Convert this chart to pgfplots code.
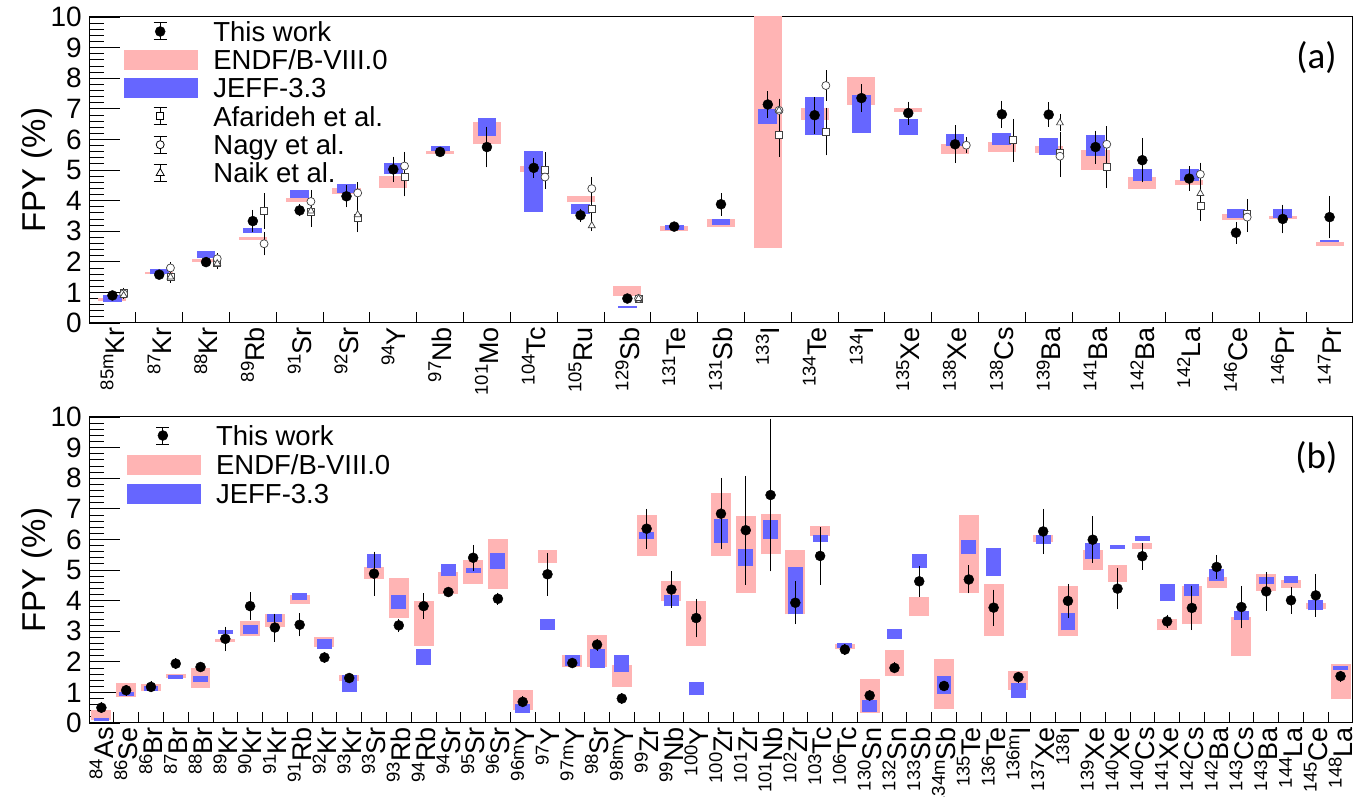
\documentclass[border=0pt]{standalone}
\usepackage{fontspec}
\setmainfont{Liberation Sans}
\newfontfamily\calibri{Carlito}
\usepackage{pgfplots}
\usepackage{pgfplotstable}
\pgfplotsset{compat=1.18}
\definecolor{endf}{RGB}{255,180,180}
\definecolor{jeff}{RGB}{102,102,255}
\newcommand\iso[2]{\raisebox{0.4em}{\fontsize{18.5}{18.5}\selectfont #1}#2}

% panel (a): i, this work, error, ENDF low/high, JEFF low/high
\pgfplotstableread{
i dot err elo ehi jlo jhi
0 0.90 0.05 0.72 0.82 0.70 0.92
1 1.58 0.05 1.59 1.67 1.60 1.76
2 1.99 0.06 1.98 2.10 2.12 2.34
3 3.33 0.27 2.72 2.82 2.94 3.09
4 3.68 0.10 3.95 4.10 4.10 4.34
5 4.14 0.26 4.20 4.42 4.25 4.55
6 5.02 0.32 4.42 4.79 4.86 5.23
7 5.59 0.05 5.51 5.61 5.62 5.80
8 5.75 0.57 5.84 6.56 6.10 6.71
9 5.07 0.22 4.93 5.12 3.64 5.63
10 3.52 0.12 3.94 4.16 3.57 3.88
11 0.80 0.03 0.89 1.20 0.50 0.54
12 3.15 0.05 3.00 3.16 3.03 3.19
13 3.88 0.27 3.13 3.39 3.21 3.39
14 7.14 0.33 2.44 10.50 6.51 6.98
15 6.79 0.50 6.64 7.02 6.15 7.39
16 7.35 0.36 7.14 8.05 6.22 7.44
17 6.86 0.28 6.90 7.03 6.15 6.66
18 5.84 0.52 5.53 5.86 5.78 6.19
19 6.82 0.35 5.59 5.92 5.83 6.21
20 6.81 0.30 5.57 5.78 5.50 6.06
21 5.75 0.44 5.01 5.64 5.46 6.13
22 5.32 0.63 4.39 4.77 4.64 5.04
23 4.72 0.30 4.50 4.68 4.64 5.04
24 2.95 0.26 3.36 3.55 3.44 3.74
25 3.40 0.37 3.39 3.49 3.43 3.74
26 3.46 0.60 2.52 2.65 2.64 2.71
}\tabA

\pgfplotstableread{
x y e
0.24 1.00 0.07
1.24 1.50 0.10
2.24 1.96 0.10
3.24 3.66 0.50
4.24 3.62 0.40
5.24 3.45 0.40
6.24 4.77 0.55
9.24 4.99 0.50
10.24 3.73 0.30
11.24 0.80 0.05
14.24 6.14 0.62
15.24 6.26 0.70
19.24 5.97 0.62
20.24 5.56 0.60
21.24 5.10 0.60
23.24 3.82 0.40
24.24 3.57 0.40
}\afa

\pgfplotstableread{
x y e
0.24 0.95 0.05
1.24 1.80 0.10
2.24 2.10 0.10
3.24 2.59 0.30
4.24 3.97 0.30
5.24 4.25 0.27
6.24 5.13 0.38
9.24 4.77 0.30
10.24 4.39 0.30
11.24 0.80 0.05
14.24 6.95 0.30
15.24 7.76 0.42
18.24 5.81 0.18
20.24 5.45 0.60
21.24 5.84 0.50
23.24 4.86 0.30
24.24 3.46 0.40
}\nagy

\pgfplotstableread{
x y e
0.24 0.90 0.05
1.24 1.50 0.10
2.24 1.94 0.10
4.24 3.66 0.30
5.24 3.54 0.30
10.24 3.18 0.10
11.24 0.80 0.05
14.24 6.95 0.30
20.24 6.54 0.20
23.24 4.23 0.20
}\naik

% panel (b)
\pgfplotstableread{
i dot err elo ehi jlo jhi
0 0.50 0.08 0.11 0.44 0.05 0.17
1 1.07 0.08 0.85 1.32 0.88 1.00
2 1.18 0.08 1.03 1.29 1.06 1.21
3 1.94 0.08 1.47 1.61 1.43 1.56
4 1.83 0.08 1.15 1.81 1.34 1.54
5 2.75 0.30 2.65 2.73 2.90 3.05
6 3.82 0.36 2.83 3.33 2.92 3.19
7 3.12 0.36 3.14 3.55 3.30 3.57
8 3.21 0.28 3.90 4.17 4.01 4.26
9 2.14 0.08 2.48 2.81 2.43 2.76
10 1.47 0.08 1.37 1.58 1.00 1.58
11 4.88 0.62 4.72 5.10 5.08 5.51
12 3.19 0.12 3.44 4.74 3.71 4.17
13 3.82 0.32 2.51 3.98 1.88 2.43
14 4.28 0.08 4.23 4.93 4.80 5.21
15 5.40 0.32 4.55 5.32 4.91 5.08
16 4.06 0.10 4.39 6.02 5.04 5.56
17 0.69 0.08 0.41 1.09 0.34 0.61
18 4.86 0.60 5.23 5.66 3.05 3.41
19 1.96 0.08 1.83 2.23 1.85 2.21
20 2.56 0.10 1.83 2.86 1.80 2.43
21 0.80 0.08 1.18 1.88 1.67 2.21
22 6.35 0.55 5.46 6.81 6.02 6.24
23 4.36 0.50 3.98 4.63 3.81 4.17
24 3.43 0.53 2.51 3.98 0.90 1.34
25 6.84 1.07 5.46 7.53 5.89 6.66
26 6.30 1.68 4.25 6.76 5.13 5.68
27 7.45 2.40 5.51 6.84 6.02 6.64
28 3.93 0.60 3.55 5.64 3.55 5.10
29 5.46 0.84 6.11 6.44 5.92 6.13
30 2.40 0.08 2.43 2.57 2.46 2.62
31 0.90 0.08 0.33 1.43 0.36 0.76
32 1.80 0.08 1.53 2.37 2.76 3.08
33 4.63 0.40 3.50 4.12 5.08 5.53
34 1.21 0.08 0.47 2.10 0.96 1.54
35 4.69 0.36 4.26 6.79 5.53 5.99
36 3.77 0.49 2.84 4.55 4.80 5.72
37 1.50 0.08 1.09 1.70 0.83 1.32
38 6.26 0.64 5.92 6.15 5.86 6.13
39 3.99 0.46 2.83 4.47 3.03 3.61
40 5.99 0.67 5.01 5.64 5.37 5.89
41 4.39 0.58 4.61 5.17 5.68 5.83
42 5.45 0.34 5.68 5.88 5.94 6.10
43 3.32 0.12 3.03 3.39 3.98 4.53
44 3.76 0.63 3.22 4.48 4.15 4.55
45 5.10 0.30 4.41 4.77 4.64 5.04
46 3.79 0.59 2.18 3.46 3.38 3.65
47 4.30 0.54 4.31 4.86 4.55 4.77
48 4.01 0.34 4.42 4.66 4.59 4.79
49 4.17 0.60 3.71 3.92 3.68 4.03
50 1.53 0.08 0.77 1.94 1.74 1.86
}\tabB

\pgfplotsset{
  fpyaxis/.style={
    scale only axis, width=1264pt, height=306pt,
    ymin=0, ymax=10,
    ytick={0,1,...,10}, yticklabels={0,1,2,3,4,5,6,7,8,9,10},
    minor y tick num=4,
    major tick length=31pt, minor tick length=15pt,
    tick align=inside, xtick pos=bottom, ytick pos=left,
    tick style={black, line width=0.8pt},
    axis line style={black, line width=1pt},
    xtick style={draw=none},
    extra x tick style={xtick style={draw=black}, major tick length=11pt},
    yticklabel style={font=\fontsize{28}{28}\selectfont, inner sep=0pt, xshift=-7pt},
    xticklabel style={font=\fontsize{27}{27}\selectfont, inner sep=0pt, yshift=-4pt, rotate=90, anchor=east},
    ylabel={FPY (\%)},
    ylabel style={font=\fontsize{33}{33}\selectfont, at={(axis description cs:-0.041,0.5)}, anchor=center},
    legend cell align=left,
    legend style={draw=none, fill=none, inner sep=0pt, outer sep=0pt,
      font=\fontsize{27.5}{27.5}\selectfont, anchor=north west,
      nodes={inner sep=0pt, outer sep=0pt, text height=19.7pt, text depth=0pt},
      column sep=0pt},
  },
  band/.style={forget plot, only marks, mark=*, mark size=0pt,
    mark options={draw=none, fill=none, opacity=0}},
  twimg/.style={legend image code/.code={
    \draw[black, line width=1pt] (36pt,-8.5pt)--(36pt,8.5pt) (29.5pt,8.5pt)--(42.5pt,8.5pt) (29.5pt,-8.5pt)--(42.5pt,-8.5pt);
    \fill[black] (36pt,0pt) circle (5pt);
    \path (0pt,0pt) (89pt,0pt);}},
  bandimg/.style={legend image code/.code={
    \fill[#1] (0pt,-9.5pt) rectangle (73pt,9.5pt);
    \path (89pt,0pt);}},
  expimg/.style={legend image code/.code={
    \draw[black, line width=0.8pt] (36pt,-8.5pt)--(36pt,8.5pt) (29.5pt,8.5pt)--(42.5pt,8.5pt) (29.5pt,-8.5pt)--(42.5pt,-8.5pt);
    #1
    \path (0pt,0pt) (89pt,0pt);}},
}

\begin{document}
\begin{tikzpicture}
\path[use as bounding box] (0pt,0pt) rectangle (1370pt,797pt);

% ---------------- panel (a)
\begin{axis}[fpyaxis, at={(89pt,474pt)}, anchor=south west,
  xmin=-0.5, xmax=26.5,
  xtick={0,1,...,26},
  xticklabels={\iso{85m}{Kr},\iso{87}{Kr},\iso{88}{Kr},\iso{89}{Rb},\iso{91}{Sr},\iso{92}{Sr},\iso{94}{Y},\iso{97}{Nb},\iso{101}{Mo},\iso{104}{Tc},\iso{105}{Ru},\iso{129}{Sb},\iso{131}{Te},\iso{131}{Sb},\iso{133}{I},\iso{134}{Te},\iso{134}{I},\iso{135}{Xe},\iso{138}{Xe},\iso{138}{Cs},\iso{139}{Ba},\iso{141}{Ba},\iso{142}{Ba},\iso{142}{La},\iso{146}{Ce},\iso{146}{Pr},\iso{147}{Pr}},
  extra x ticks={0.5,1.5,...,25.5}, extra x tick labels={},
  legend style={at={(axis description cs:0.02769,0.9848)}, row sep=8.6pt},
]
\addlegendimage{twimg}\addlegendentry{This work}
\addlegendimage{bandimg=endf}\addlegendentry{ENDF/B-VIII.0}
\addlegendimage{bandimg=jeff}\addlegendentry{JEFF-3.3}
\addlegendimage{expimg={\draw[black, fill=white, line width=0.8pt] (32.5pt,-3.5pt) rectangle (39.5pt,3.5pt);}}\addlegendentry{Afarideh et al.}
\addlegendimage{expimg={\draw[black, fill=white, line width=0.8pt] (36pt,0pt) circle (4pt);}}\addlegendentry{Nagy et al.}
\addlegendimage{expimg={\draw[black, fill=white, line width=0.8pt] (36pt,4.5pt)--(40pt,-2.5pt)--(32pt,-2.5pt)--cycle;}}\addlegendentry{Naik et al.}

\addplot[band, error bars/.cd, y dir=plus, y explicit, error mark=none,
  error bar style={line width=28.1pt, color=endf}]
  table[x=i, y=elo, y error expr=\thisrow{ehi}-\thisrow{elo}] {\tabA};
\addplot[band, error bars/.cd, y dir=plus, y explicit, error mark=none,
  error bar style={line width=18.8pt, color=jeff}]
  table[x=i, y=jlo, y error expr=\thisrow{jhi}-\thisrow{jlo}] {\tabA};

\addplot[forget plot, only marks, mark=square*, mark size=3.5pt, mark options={fill=white, draw=black!75, line width=0.7pt},
  error bars/.cd, y dir=both, y explicit, error bar style={line width=0.7pt, black}, error mark options={mark size=2.5pt, line width=0.7pt, black}]
  table[x=x, y=y, y error=e] {\afa};
\addplot[forget plot, only marks, mark=*, mark size=4pt, mark options={fill=white, draw=black!75, line width=0.7pt},
  error bars/.cd, y dir=both, y explicit, error bar style={line width=0.7pt, black}, error mark options={mark size=2.5pt, line width=0.7pt, black}]
  table[x=x, y=y, y error=e] {\nagy};
\addplot[forget plot, only marks, mark=triangle*, mark size=4pt, mark options={fill=white, draw=black!75, line width=0.7pt},
  error bars/.cd, y dir=both, y explicit, error bar style={line width=0.7pt, black}, error mark options={mark size=2.5pt, line width=0.7pt, black}]
  table[x=x, y=y, y error=e] {\naik};

\addplot[forget plot, only marks, mark=*, mark size=5pt, mark options={fill=black, draw=black},
  error bars/.cd, y dir=both, y explicit, error bar style={line width=0.9pt, black}, error mark options={mark size=3pt, line width=0.9pt, black}]
  table[x=i, y=dot, y error=err] {\tabA};

\node[font=\calibri\fontsize{37}{37}\selectfont, anchor=center] at (axis description cs:0.9711,0.8676) {(a)};
\end{axis}

% ---------------- panel (b)
\begin{axis}[fpyaxis, at={(89pt,74pt)}, anchor=south west,
  xmin=-0.5, xmax=50.5,
  xtick={0,1,...,50},
  xticklabels={\iso{84}{As},\iso{86}{Se},\iso{86}{Br},\iso{87}{Br},\iso{88}{Br},\iso{89}{Kr},\iso{90}{Kr},\iso{91}{Kr},\iso{91}{Rb},\iso{92}{Kr},\iso{93}{Kr},\iso{93}{Sr},\iso{93}{Rb},\iso{94}{Rb},\iso{94}{Sr},\iso{95}{Sr},\iso{96}{Sr},\iso{96m}{Y},\iso{97}{Y},\iso{97m}{Y},\iso{98}{Sr},\iso{98m}{Y},\iso{99}{Zr},\iso{99}{Nb},\iso{100}{Y},\iso{100}{Zr},\iso{101}{Zr},\iso{101}{Nb},\iso{102}{Zr},\iso{103}{Tc},\iso{106}{Tc},\iso{130}{Sn},\iso{132}{Sn},\iso{133}{Sb},\iso{134m}{Sb},\iso{135}{Te},\iso{136}{Te},\iso{136m}{I},\iso{137}{Xe},\iso{138}{I},\iso{139}{Xe},\iso{140}{Xe},\iso{140}{Cs},\iso{141}{Xe},\iso{142}{Cs},\iso{142}{Ba},\iso{143}{Cs},\iso{143}{Ba},\iso{144}{La},\iso{145}{Ce},\iso{148}{La}},
  extra x ticks={0.5,1.5,...,49.5}, extra x tick labels={},
  legend style={at={(axis description cs:0.0298,0.9717)}, row sep=9.3pt},
]
\addlegendimage{twimg}\addlegendentry{This work}
\addlegendimage{bandimg=endf}\addlegendentry{ENDF/B-VIII.0}
\addlegendimage{bandimg=jeff}\addlegendentry{JEFF-3.3}

\addplot[band, error bars/.cd, y dir=plus, y explicit, error mark=none,
  error bar style={line width=19.9pt, color=endf}]
  table[x=i, y=elo, y error expr=\thisrow{ehi}-\thisrow{elo}] {\tabB};
\addplot[band, error bars/.cd, y dir=plus, y explicit, error mark=none,
  error bar style={line width=14.9pt, color=jeff}]
  table[x=i, y=jlo, y error expr=\thisrow{jhi}-\thisrow{jlo}] {\tabB};
\addplot[forget plot, only marks, mark=*, mark size=5pt, mark options={fill=black, draw=black},
  error bars/.cd, y dir=both, y explicit, error bar style={line width=0.9pt, black}, error mark options={mark size=3pt, line width=0.9pt, black}]
  table[x=i, y=dot, y error=err] {\tabB};

\node[font=\calibri\fontsize{37}{37}\selectfont, anchor=center] at (axis description cs:0.9711,0.8676) {(b)};
\end{axis}
\end{tikzpicture}
\end{document}
